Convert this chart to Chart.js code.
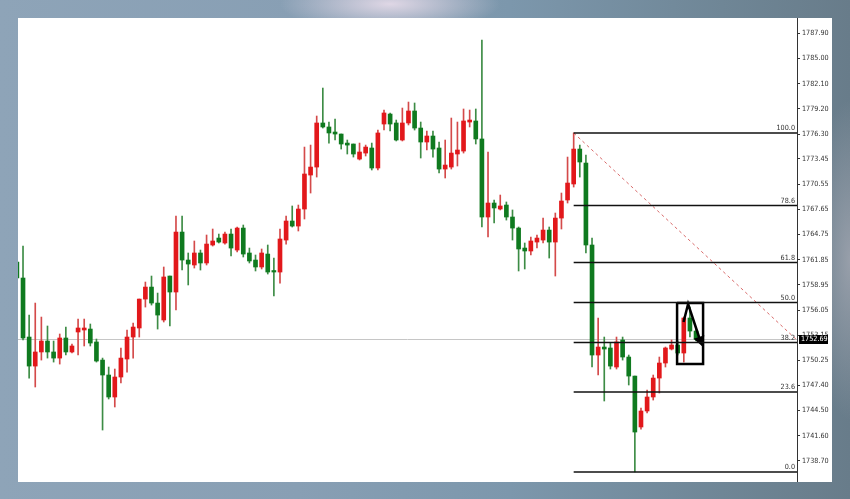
<!DOCTYPE html>
<html>
<head>
  <title>XAUUSD Fibonacci Retracement</title>
  <script src="https://cdn.jsdelivr.net/npm/chart.js"></script>
  <style>
    body {
      margin: 0;
      width: 850px;
      height: 499px;
      overflow: hidden;
      background:
        radial-gradient(ellipse 110px 28px at 390px 4px, rgba(228,218,232,0.95), rgba(228,218,232,0)),
        radial-gradient(ellipse 40px 160px at 850px 260px, rgba(172,174,184,0.7), rgba(172,174,184,0)),
        linear-gradient(90deg, #8ea4b8 0%, #889fb4 35%, #7c97ac 60%, #6f8696 85%, #687c8a 100%);
    }
    #panel {
      position: absolute;
      left: 18px;
      top: 18px;
      width: 814px;
      height: 464px;
      background: #fff;
    }
  </style>
</head>
<body>
  <div id="panel"><canvas id="chart" width="814" height="464"></canvas></div>

  <script>
    // candle values (oldest first)
    const opens = [1761.58,1759.74,1752.95,1749.61,1751.23,1752.49,1751.23,1750.53,1752.84,1751.23,
      1753.53,1753.76,1753.87,1752.38,1750.30,1748.58,1746.05,1748.35,1750.42,1752.95,
      1753.99,1757.32,1758.70,1756.86,1754.91,1759.97,1758.13,1765.03,1761.81,1761.24,
      1762.62,1761.47,1763.54,1764.34,1763.77,1764.80,1762.96,1765.49,1762.62,1761.81,
      1761.01,1762.50,1760.55,1760.43,1764.11,1766.30,1765.72,1767.68,1771.59,1772.51,
      1777.58,1777.12,1776.54,1776.31,1775.27,1775.16,1773.43,1774.12,1774.70,1772.40,
      1777.46,1778.61,1777.58,1775.62,1777.58,1778.96,1777.00,1775.39,1776.08,1774.70,
      1772.28,1772.51,1774.01,1774.35,1777.69,1777.81,1775.74,1766.76,1768.37,1767.68,
      1768.14,1766.76,1765.49,1763.19,1762.85,1763.88,1764.11,1765.26,1763.88,1766.64,
      1768.72,1770.56,1774.58,1772.97,1763.54,1750.88,1751.80,1751.69,1749.50,1752.61,
      1750.65,1748.46,1742.60,1744.44,1746.05,1748.23,1749.96,1751.57,1752.03,1751.11,
      1755.14,1753.64];
    const highs = [1762.39,1763.42,1755.48,1756.86,1755.25,1754.22,1752.49,1753.30,1754.10,1752.15,
      1755.02,1755.02,1754.45,1752.72,1750.53,1749.50,1749.27,1751.69,1753.76,1754.56,
      1757.32,1759.28,1759.97,1758.01,1761.01,1759.97,1766.87,1766.87,1762.62,1764.00,
      1762.96,1764.69,1765.38,1764.80,1765.03,1765.38,1765.61,1765.84,1763.19,1762.39,
      1763.08,1763.54,1762.04,1765.38,1766.87,1768.03,1768.14,1774.81,1775.04,1778.38,
      1781.60,1777.69,1778.04,1776.31,1775.62,1775.16,1775.27,1775.04,1775.27,1776.77,
      1779.07,1778.73,1777.92,1779.30,1779.99,1779.88,1777.69,1776.66,1776.66,1775.39,
      1775.62,1778.15,1777.69,1779.19,1779.07,1779.19,1787.13,1774.24,1768.72,1769.29,
      1768.49,1767.57,1765.61,1763.77,1764.46,1764.69,1766.64,1765.61,1767.22,1769.52,
      1773.66,1776.43,1775.04,1773.89,1764.34,1755.14,1752.95,1752.26,1752.95,1752.95,
      1750.88,1748.46,1744.78,1746.85,1748.58,1750.65,1751.80,1752.61,1752.49,1755.25,
      1756.40,1753.87];
    const lows = [1759.51,1752.61,1748.23,1747.20,1750.30,1750.53,1750.07,1749.84,1750.88,1751.11,
      1750.88,1751.92,1751.92,1750.07,1742.25,1745.82,1744.90,1747.66,1748.92,1750.53,
      1752.95,1756.40,1756.63,1753.87,1754.68,1754.22,1756.06,1760.66,1758.94,1760.89,
      1760.66,1761.24,1763.42,1763.77,1763.65,1762.27,1762.73,1762.16,1761.47,1760.55,
      1760.78,1760.20,1757.67,1759.16,1763.65,1765.61,1765.15,1766.53,1769.52,1771.36,
      1777.00,1775.27,1775.62,1774.58,1774.01,1773.66,1773.32,1773.78,1772.17,1772.17,
      1776.77,1776.66,1775.51,1775.51,1777.35,1776.77,1773.55,1774.47,1773.66,1771.82,
      1771.25,1772.28,1772.63,1774.12,1777.12,1775.16,1765.61,1764.46,1766.07,1767.57,
      1766.41,1764.11,1760.55,1760.78,1762.39,1763.19,1763.77,1762.04,1759.97,1765.38,
      1768.37,1770.21,1771.36,1762.62,1749.50,1748.58,1745.59,1749.27,1749.27,1750.30,
      1747.43,1737.42,1742.36,1744.21,1745.70,1746.51,1749.50,1751.46,1750.88,1750.07,
      1752.95,1752.49];
    const closes = [1759.74,1752.84,1749.61,1751.23,1752.49,1751.23,1750.53,1752.84,1751.23,1751.92,
      1753.99,1753.99,1752.26,1750.19,1748.58,1746.05,1748.35,1750.53,1752.95,1754.10,
      1757.32,1758.70,1756.86,1755.48,1759.86,1758.13,1765.03,1761.81,1761.35,1762.62,
      1761.47,1763.65,1764.00,1763.88,1764.80,1763.19,1765.49,1762.50,1761.70,1761.01,
      1762.62,1760.43,1760.43,1764.23,1766.30,1765.72,1767.68,1771.71,1772.51,1777.58,
      1777.12,1776.43,1776.31,1775.16,1775.04,1774.01,1774.24,1774.81,1772.40,1776.43,
      1778.73,1777.46,1775.62,1777.58,1778.96,1777.00,1775.39,1776.08,1774.58,1772.28,
      1772.74,1774.12,1774.47,1777.81,1777.92,1775.74,1766.76,1768.37,1767.80,1768.03,
      1766.76,1765.49,1763.08,1762.85,1764.00,1764.34,1765.26,1763.88,1766.64,1768.60,
      1770.67,1774.58,1773.09,1763.54,1750.88,1751.80,1751.57,1749.61,1752.38,1750.65,
      1748.46,1742.02,1744.44,1746.05,1748.23,1749.96,1751.69,1752.03,1751.11,1755.14,
      1753.64,1752.69];

    const tickValues = [1787.90, 1785.00, 1782.10, 1779.20, 1776.30, 1773.45, 1770.55, 1767.65, 1764.75,
      1761.85, 1758.95, 1756.05, 1753.15, 1750.25, 1747.40, 1744.50, 1741.60, 1738.70];
    const tickLabels = ['1787.90', '1785.00', '1782.10', '1779.20', '1776.30', '1773.45', '1770.55', '1767.65', '1764.75',
      '1761.85', '1758.95', '1756.05', '1753.15', '1750.25', '1747.40', '1744.50', '1741.60', '1738.70'];

    // fibonacci drawn from the swing high (bar 92) to the swing low (bar 102)
    const fibRatios = [100.0, 78.6, 61.8, 50.0, 38.2, 23.6, 0.0];
    const fibLabels = ['100.0', '78.6', '61.8', '50.0', '38.2', '23.6', '0.0'];
    const fibHigh = 1776.43;
    const fibLow = 1737.42;
    const fibStart = 92;

    const lastPrice = 1752.69;
    const trendLine = [{x: 92, y: 1776.43}, {x: 128.5, y: 1752.6}];
    const boxPts = [{x: 108.9, y: 1756.86}, {x: 113.15, y: 1756.86}, {x: 113.15, y: 1749.84}, {x: 108.9, y: 1749.84}, {x: 108.9, y: 1756.86}];
    const arrowPts = [{x: 109.96, y: 1754.68}, {x: 110.7, y: 1756.75}, {x: 112.65, y: 1752.61}];

    const UP = '#e2181b', DOWN = '#0f7a1f';
    const UP_WICK = '#d44a4a', DOWN_WICK = '#3d8c45';
    const FONT = '"DejaVu Sans Condensed", "Liberation Sans", sans-serif';

    const idx = opens.map((_, i) => i + 1);
    const isUp = idx.map((_, i) => closes[i] >= opens[i]);

    const fibLevels = fibRatios.map(r => fibLow + (fibHigh - fibLow) * r / 100);

    const fibSets = fibLevels.map(v => ({
      type: 'line',
      data: [{x: fibStart, y: v}, {x: 130, y: v}],
      borderColor: '#111',
      borderWidth: 1.6,
      pointRadius: 0
    }));

    const overlay = {
      id: 'overlay',
      beforeDatasetsDraw(chart) {
        const {ctx, chartArea: a, scales: {y}} = chart;
        const py = Math.round(y.getPixelForValue(lastPrice)) + 0.5;
        ctx.save();
        ctx.strokeStyle = '#c6c6c6';
        ctx.lineWidth = 1;
        ctx.beginPath();
        ctx.moveTo(a.left, py);
        ctx.lineTo(a.right, py);
        ctx.stroke();
        ctx.restore();
      },
      afterDraw(chart) {
        const {ctx, chartArea: a, scales: {y}} = chart;
        ctx.save();
        ctx.font = '7.2px ' + FONT;
        ctx.fillStyle = '#333';
        ctx.textAlign = 'right';
        ctx.textBaseline = 'bottom';
        fibLevels.forEach((v, i) => {
          ctx.fillText(fibLabels[i], a.right - 2, y.getPixelForValue(v) - 1);
        });
        // last price marker on the axis
        const py = Math.round(y.getPixelForValue(lastPrice));
        ctx.fillStyle = '#000';
        ctx.fillRect(a.right + 2, py - 4, 29, 9);
        ctx.fillStyle = '#fff';
        ctx.textAlign = 'left';
        ctx.textBaseline = 'middle';
        ctx.fillText(lastPrice.toFixed(2), a.right + 4, py + 0.5);
        ctx.restore();
      }
    };

    const ctx = document.getElementById('chart').getContext('2d');
    new Chart(ctx, {
      type: 'bar',
      data: {
        datasets: [
          {
            data: idx.map((x, i) => ({x: x, y: [lows[i], highs[i]]})),
            backgroundColor: isUp.map(u => u ? UP_WICK : DOWN_WICK),
            barThickness: 1,
            grouped: false,
            order: 3
          },
          {
            data: idx.map((x, i) => ({x: x, y: [opens[i], closes[i]]})),
            backgroundColor: isUp.map(u => u ? UP : DOWN),
            barThickness: 4,
            minBarLength: 1.5,
            grouped: false,
            order: 2
          },
          ...fibSets,
          {
            type: 'line',
            data: trendLine,
            borderColor: '#d86a6a',
            borderWidth: 1,
            borderDash: [3, 3],
            pointRadius: 0
          },
          {
            type: 'line',
            data: boxPts,
            borderColor: '#000',
            borderWidth: 2.5,
            pointRadius: 0
          },
          {
            type: 'line',
            data: arrowPts,
            borderColor: '#000',
            borderWidth: 2.5,
            pointRadius: [0, 0, 4],
            pointStyle: 'triangle',
            rotation: 162,
            pointBackgroundColor: '#000',
            pointBorderColor: '#000'
          }
        ]
      },
      options: {
        responsive: false,
        animation: false,
        layout: { padding: 0, autoPadding: false },
        plugins: { legend: { display: false }, tooltip: { enabled: false } },
        scales: {
          x: {
            type: 'linear',
            min: 1.18,
            max: 128.5,
            offset: false,
            display: false
          },
          y: {
            position: 'right',
            min: 1736.27,
            max: 1789.66,
            afterBuildTicks: s => { s.ticks = tickValues.slice().sort((a, b) => a - b).map(v => ({value: v})); },
            afterFit: s => { s.width = 35; s.paddingTop = 0; s.paddingBottom = 0; },
            border: { display: true, color: '#333', width: 1 },
            grid: { drawOnChartArea: false, drawTicks: true, tickLength: 3, color: '#333' },
            ticks: {
              color: '#333',
              padding: 2,
              font: { family: FONT, size: 7.2 },
              callback: v => tickLabels[tickValues.indexOf(v)]
            }
          }
        }
      },
      plugins: [overlay]
    });
  </script>
</body>
</html>
